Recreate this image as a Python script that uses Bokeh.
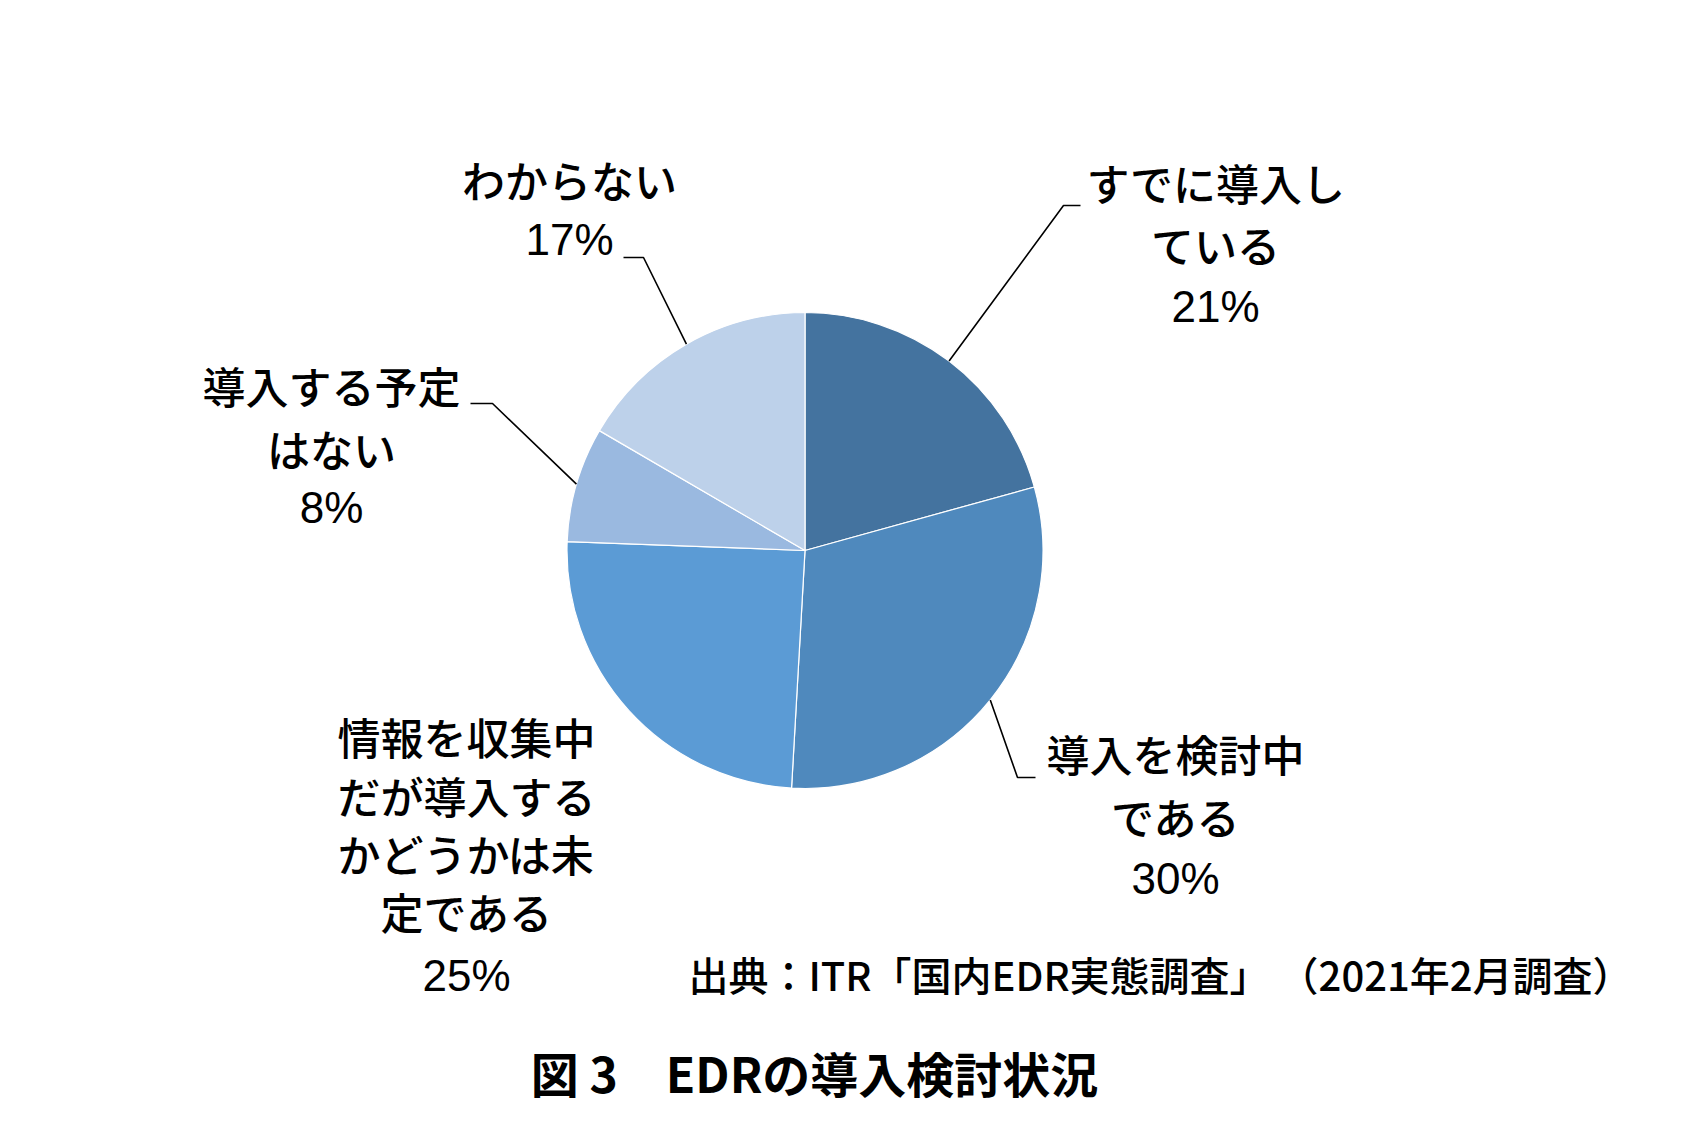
import numpy as np
from bokeh.plotting import figure
from bokeh.models import Range1d, ColumnDataSource
from bokeh.core.properties import value
from bokeh.embed import file_html
from bokeh.resources import INLINE

# ---------------- data ----------------
categories = ["すでに導入している", "導入を検討中である",
              "情報を収集中だが導入するかどうかは未定である",
              "導入する予定はない", "わからない"]
label_lines = [["すでに導入し", "ている"],
               ["導入を検討中", "である"],
               ["情報を収集中", "だが導入する", "かどうかは未", "定である"],
               ["導入する予定", "はない"],
               ["わからない"]]
shares = [20.7, 30.2, 24.7, 7.8, 16.6]
pct_labels = ["21%", "30%", "25%", "8%", "17%"]
colors = ["#44739F", "#4F89BD", "#5B9BD5", "#9AB9E0", "#BDD1EA"]
title_text = "図 3　EDRの導入検討状況"
source_text = "出典：ITR「国内EDR実態調査」 （2021年2月調査）"

# ---------------- layout (page pixel coords, y down) ----------------
W, H = 1675, 1116
def Y(yref):
    return 1132 - yref

cx, cy, r = 804.5, Y(550), 238

label_layout = [
    (1215, [181, 243], 306),
    (1175, [752, 815], 878),
    (466, [735, 794, 852, 910], 975),
    (331, [384, 447], 507),
    (569, [178], 239),
]
leader_pts = [
    [(1063, 205), (1080, 205)],
    [(1017, 777), (1035, 777)],
    None,
    [(492, 403), (470, 403)],
    [(643, 257), (623, 257)],
]

p = figure(width=W, height=H, x_range=Range1d(0, W), y_range=Range1d(1132 - H, 1132),
           output_backend="svg", toolbar_location=None, min_border=0)
p.axis.visible = False
p.grid.visible = False
p.outline_line_color = None
p.background_fill_color = "white"
p.border_fill_color = "white"

vals = np.array(shares, dtype=float)
frac = vals / vals.sum()
cum_after = np.cumsum(frac)
cum_before = cum_after - frac
start_angle = np.pi / 2 - 2 * np.pi * cum_after
end_angle = np.pi / 2 - 2 * np.pi * cum_before

src = ColumnDataSource(dict(start=start_angle, end=end_angle, color=colors, cat=categories))
p.wedge(x=cx, y=cy, radius=r, start_angle="start", end_angle="end",
        fill_color="color", line_color="white", line_width=1.2, source=src)

# leader lines
mid = np.pi / 2 - 2 * np.pi * (cum_before + frac / 2)
for i, pts in enumerate(leader_pts):
    if pts is None:
        continue
    xs = [cx + r * np.cos(mid[i])] + [q[0] for q in pts]
    ys = [cy + r * np.sin(mid[i])] + [Y(q[1]) for q in pts]
    p.line(xs, ys, line_color="black", line_width=1.6)

# labels
jx, jy, jt = [], [], []
px, py = [], []
for i, (lx, lys, pyy) in enumerate(label_layout):
    for t, yy in zip(label_lines[i], lys):
        jx.append(lx); jy.append(Y(yy)); jt.append(t)
    px.append(lx); py.append(Y(pyy))

jp_font = value("'Noto Sans CJK JP Medium', 'Noto Sans CJK JP'")
p.text(x=jx, y=jy, text=jt, text_font=jp_font, text_font_size="43px",
       text_align="center", text_baseline="middle", text_color="black")
p.text(x=px, y=py, text=pct_labels, text_font=value("Liberation Sans"), text_font_size="44px",
       text_align="center", text_baseline="middle", text_color="black")

p.text(x=[1160], y=[Y(973)], text=[source_text], text_font=jp_font,
       text_font_size="40px", text_align="center", text_baseline="middle", text_color="black")
p.text(x=[814], y=[Y(1071)], text=[title_text], text_font=value("Noto Sans CJK JP"),
       text_font_size="48px", text_font_style="bold", text_align="center",
       text_baseline="middle", text_color="black")

open("out.html", "w").write(file_html(p, INLINE))
